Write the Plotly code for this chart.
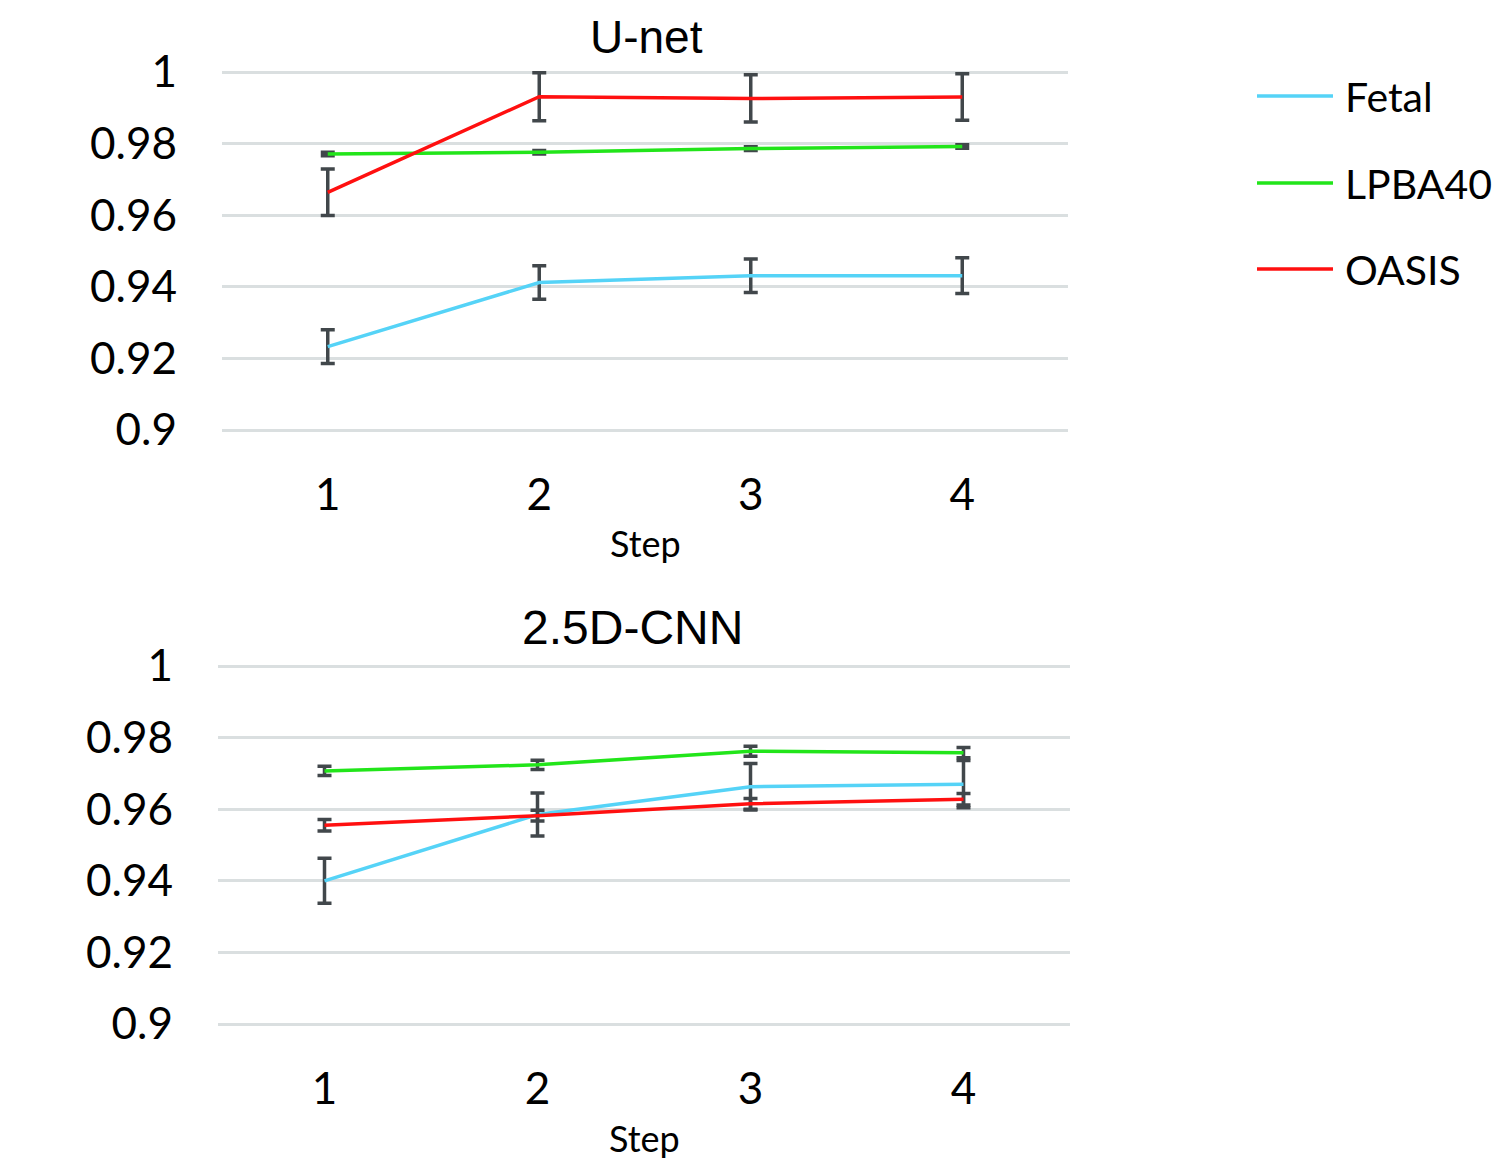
import plotly.graph_objects as go

steps = [1, 2, 3, 4]
series_names = ["Fetal", "LPBA40", "OASIS"]
series_colors = ["#55d3f7", "#22e51a", "#ff1010"]

unet_fetal = [0.9233, 0.9412, 0.9431, 0.9431]
unet_fetal_err = [0.0047, 0.0047, 0.0047, 0.0050]
unet_lpba = [0.9771, 0.9776, 0.9786, 0.9792]
unet_lpba_err = [0.0005, 0.0005, 0.0005, 0.0005]
unet_oasis = [0.9664, 0.9931, 0.9926, 0.9930]
unet_oasis_err = [0.0065, 0.0067, 0.0066, 0.0065]

cnn_fetal = [0.9400, 0.9585, 0.9663, 0.9670]
cnn_fetal_err = [0.0063, 0.0060, 0.0065, 0.0066]
cnn_lpba = [0.9707, 0.9724, 0.9762, 0.9758]
cnn_lpba_err = [0.0013, 0.0013, 0.0014, 0.0014]
cnn_oasis = [0.9555, 0.9582, 0.9615, 0.9628]
cnn_oasis_err = [0.0016, 0.0015, 0.0015, 0.0016]

y_tickvals = [0.9, 0.92, 0.94, 0.96, 0.98, 1.0]
y_ticktext = ["0.9", "0.92", "0.94", "0.96", "0.98", "1"]
x_ticktext = ["1", "2", "3", "4"]

OFF = 8  # page body margin
W, H = 1508 - OFF, 1173 - OFF
TICK_FONT = dict(family="Lato", size=44, color="black")
ERR_COLOR = "#41474b"

fig = go.Figure()

panels = [
    ("x", "y", [unet_fetal, unet_lpba, unet_oasis], [unet_fetal_err, unet_lpba_err, unet_oasis_err]),
    ("x2", "y2", [cnn_fetal, cnn_lpba, cnn_oasis], [cnn_fetal_err, cnn_lpba_err, cnn_oasis_err]),
]
for xa, ya, vals, errs in panels:
    for name, color, v, e in zip(series_names, series_colors, vals, errs):
        fig.add_trace(go.Scatter(
            x=steps, y=v, mode="lines", name=name, xaxis=xa, yaxis=ya,
            line=dict(color=color, width=3.5),
            error_y=dict(type="data", array=e, visible=True, color=ERR_COLOR, thickness=3.5, width=7),
            showlegend=False,
        ))

def py(p):
    return 1 - (p - OFF) / H

def px(p):
    return (p - OFF) / W

yr = [0.899, 1.001]
pxper = 358 / 0.1
top_top = 72 - 0.001 * pxper
top_bot = 430 + 0.001 * pxper
bot_top = 666 - 0.001 * pxper
bot_bot = 1024 + 0.001 * pxper

common_x = dict(range=[0.5, 4.5], tickvals=steps, ticktext=x_ticktext, showgrid=False,
                zeroline=False, showline=False, ticks="", tickfont=TICK_FONT,
                ticklabelstandoff=31, automargin=False)
common_y = dict(range=yr, tickvals=y_tickvals, ticktext=y_ticktext, showgrid=True,
                gridcolor="#dadfe0", gridwidth=3, zeroline=False, showline=False,
                ticks="", tickfont=TICK_FONT, ticklabelstandoff=44, automargin=False)

fig.update_layout(
    width=W, height=H, margin=dict(l=0, r=0, t=0, b=0),
    paper_bgcolor="white", plot_bgcolor="white", template="none",
    showlegend=False,
    xaxis=dict(domain=[px(222), px(1068)], anchor="y", **common_x),
    yaxis=dict(domain=[py(top_bot), py(top_top)], anchor="x", **common_y),
    xaxis2=dict(domain=[px(218), px(1070)], anchor="y2", **common_x),
    yaxis2=dict(domain=[py(bot_bot), py(bot_top)], anchor="x2", **common_y),
)

annotations = [
    dict(text="U-net", x=px(646), y=py(37), font=dict(family="Liberation Sans", size=46, color="black")),
    dict(text="2.5D-CNN", x=px(632), y=py(627), font=dict(family="Liberation Sans", size=48, color="black")),
    dict(text="Step", x=px(645), y=py(543), font=dict(family="Lato", size=36, color="black")),
    dict(text="Step", x=px(644), y=py(1138), font=dict(family="Lato", size=36, color="black")),
]
for a in annotations:
    a.update(xref="paper", yref="paper", xanchor="center", yanchor="middle", showarrow=False)
    fig.add_annotation(**a)

legend_y = [96, 183, 269]
for name, color, ly in zip(series_names, series_colors, legend_y):
    fig.add_shape(type="line", xref="paper", yref="paper",
                  x0=px(1257), x1=px(1333), y0=py(ly), y1=py(ly),
                  line=dict(color=color, width=3.5))
    fig.add_annotation(text=name, xref="paper", yref="paper", x=px(1343),
                       y=py(ly), xanchor="left", yanchor="middle", showarrow=False,
                       font=dict(family="Lato", size=41, color="black"))

fig.write_html("out.html")
